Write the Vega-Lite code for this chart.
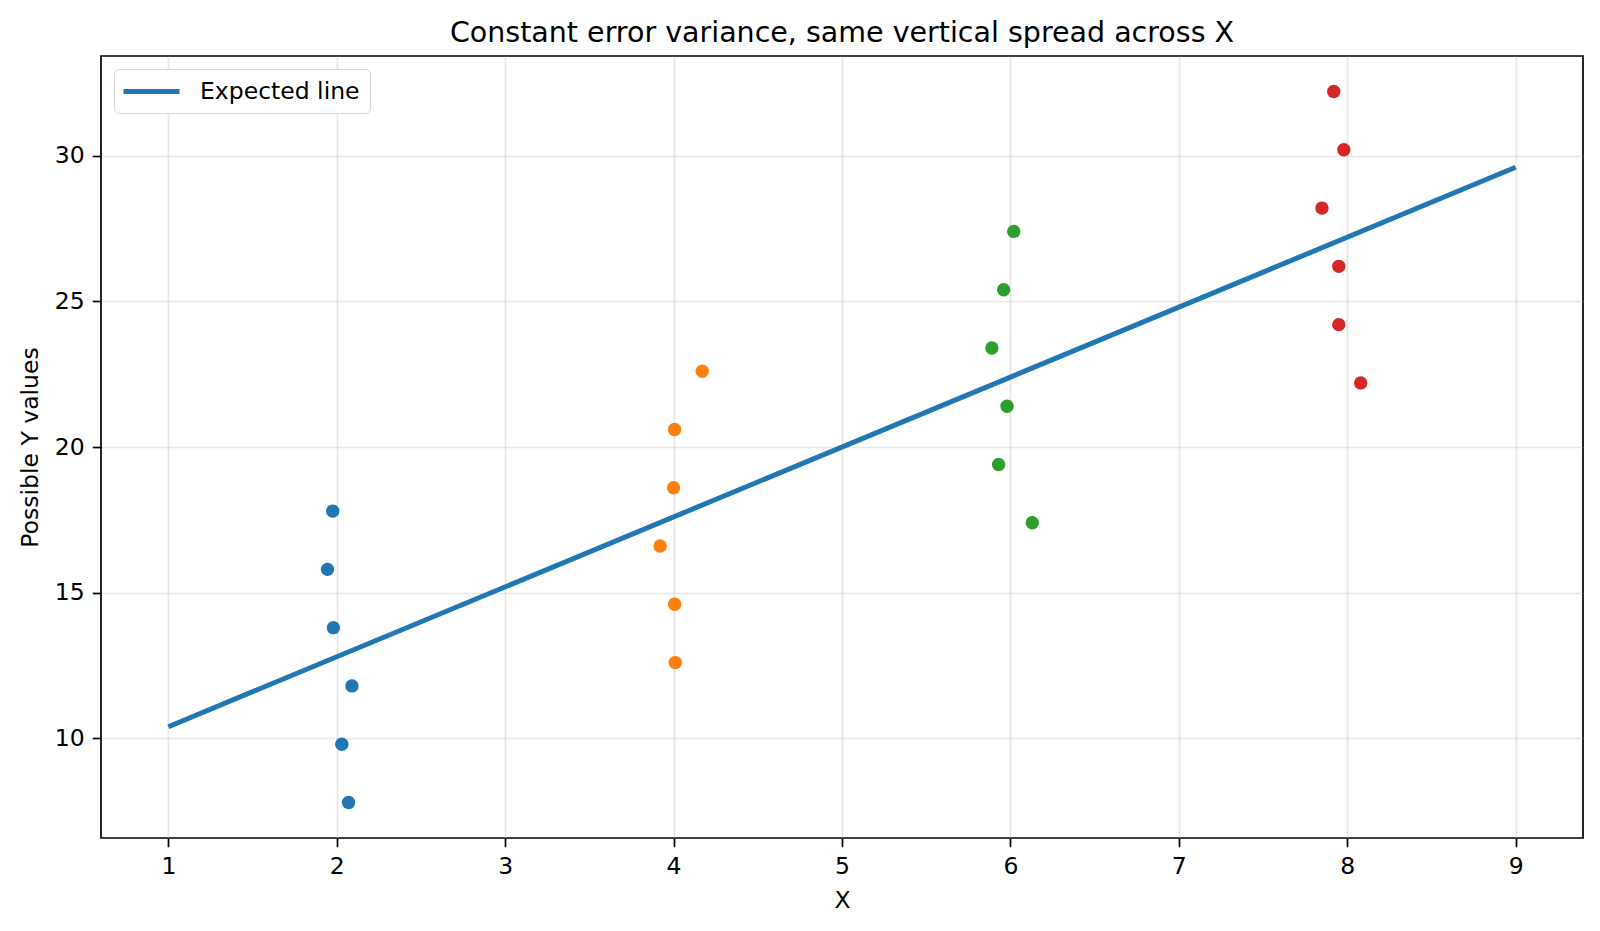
{
  "$schema": "https://vega.github.io/schema/vega-lite/v6.json",
  "autosize": {"type": "none"},
  "padding": {"left": 101, "top": 56, "right": 17, "bottom": 93},
  "width": 1482,
  "height": 782,
  "background": "white",
  "title": {"text": "Constant error variance, same vertical spread across X", "font": "DejaVu Sans", "fontSize": 28.5, "fontWeight": "normal", "color": "black", "anchor": "middle", "offset": 9},
  "config": {
    "view": {"stroke": "black", "strokeWidth": 1.7},
    "axis": {"labelFont": "DejaVu Sans", "labelFontSize": 23.5, "labelColor": "black", "titleFont": "DejaVu Sans", "titleFontSize": 23.5, "titleFontWeight": "normal", "titleColor": "black", "domain": false, "tickColor": "black", "tickWidth": 1.7, "tickSize": 8.75, "labelPadding": 8, "grid": true, "gridColor": "#b0b0b0", "gridOpacity": 0.3, "gridWidth": 1.7}
  },
  "datasets": {
    "pts": [
      {"x": 1.976, "y": 17.8, "g": "x2"},
      {"x": 1.945, "y": 15.8, "g": "x2"},
      {"x": 1.98, "y": 13.8, "g": "x2"},
      {"x": 2.09, "y": 11.8, "g": "x2"},
      {"x": 2.03, "y": 9.8, "g": "x2"},
      {"x": 2.07, "y": 7.8, "g": "x2"},
      {"x": 4.17, "y": 22.6, "g": "x4"},
      {"x": 4.006, "y": 20.6, "g": "x4"},
      {"x": 4.0, "y": 18.6, "g": "x4"},
      {"x": 3.92, "y": 16.6, "g": "x4"},
      {"x": 4.006, "y": 14.6, "g": "x4"},
      {"x": 4.01, "y": 12.6, "g": "x4"},
      {"x": 6.02, "y": 27.4, "g": "x6"},
      {"x": 5.96, "y": 25.4, "g": "x6"},
      {"x": 5.89, "y": 23.4, "g": "x6"},
      {"x": 5.98, "y": 21.4, "g": "x6"},
      {"x": 5.93, "y": 19.4, "g": "x6"},
      {"x": 6.13, "y": 17.4, "g": "x6"},
      {"x": 7.92, "y": 32.2, "g": "x8"},
      {"x": 7.98, "y": 30.2, "g": "x8"},
      {"x": 7.85, "y": 28.2, "g": "x8"},
      {"x": 7.95, "y": 26.2, "g": "x8"},
      {"x": 7.95, "y": 24.2, "g": "x8"},
      {"x": 8.08, "y": 22.2, "g": "x8"}
    ],
    "line": [
      {"x": 1, "y": 10.4},
      {"x": 9, "y": 29.6}
    ]
  },
  "layer": [
    {
      "data": {"name": "line"},
      "mark": {"type": "line", "strokeWidth": 5, "clip": true},
      "encoding": {
        "x": {"field": "x", "type": "quantitative", "scale": {"domain": [0.6, 9.4], "nice": false, "zero": false}, "axis": {"values": [1, 2, 3, 4, 5, 6, 7, 8, 9], "format": "d", "title": "X", "titlePadding": 10}},
        "y": {"field": "y", "type": "quantitative", "scale": {"domain": [6.58, 33.42], "nice": false, "zero": false}, "axis": {"values": [10, 15, 20, 25, 30], "format": "d", "title": "Possible Y values", "titlePadding": 12}},
        "color": {"datum": "Expected line", "scale": {"range": ["#1f77b4"]}, "legend": {"title": null, "orient": "top-left", "offset": 12.5, "symbolType": "M-1.3,0H4.3", "symbolSize": 400, "symbolStrokeWidth": 5, "labelFont": "DejaVu Sans", "labelFontSize": 23.5, "labelColor": "black", "labelOffset": 51, "padding": 10, "strokeColor": "#d6d6d6", "fillColor": "white", "cornerRadius": 5}}
      }
    },
    {
      "data": {"name": "pts"},
      "mark": {"type": "circle", "size": 180, "opacity": 1},
      "encoding": {
        "x": {"field": "x", "type": "quantitative"},
        "y": {"field": "y", "type": "quantitative"},
        "color": {"field": "g", "type": "nominal", "scale": {"domain": ["x2", "x4", "x6", "x8"], "range": ["#1f77b4", "#ff7f0e", "#2ca02c", "#d62728"]}, "legend": null}
      }
    }
  ],
  "resolve": {"scale": {"color": "independent"}}
}
